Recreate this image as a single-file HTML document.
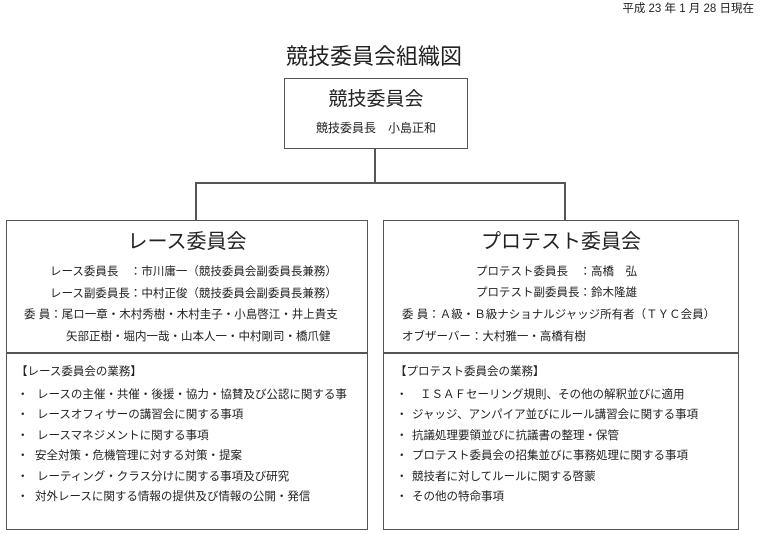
<!DOCTYPE html>
<html><head><meta charset="utf-8"><style>
html,body{margin:0;padding:0;background:#fff;}
body{width:771px;height:534px;position:relative;overflow:hidden;font-family:"Liberation Sans","Noto Sans CJK JP",sans-serif;color:#222;}
.t{position:absolute;white-space:pre;line-height:1;}
.b{position:absolute;border:1.5px solid #555;box-sizing:border-box;}
.l{position:absolute;background:#555;}
.s{font-size:11.5px;}
</style></head><body>
<div class="t" style="left:607px;top:4px;font-size:11.5px;width:147px;text-align:right;">平成 23 年 1 月 28 日現在</div>
<div class="t" style="left:284px;top:46px;font-size:22px;width:180px;text-align:center;">競技委員会組織図</div>

<div class="b" style="left:284px;top:78px;width:184px;height:71px;"></div>
<div class="t" style="left:284px;top:90px;width:184px;text-align:center;font-size:19px;">競技委員会</div>
<div class="t" style="left:284px;top:122px;width:184px;text-align:center;font-size:12px;">競技委員長　小島正和</div>

<div class="l" style="left:374px;top:148px;width:1.5px;height:35px;"></div>
<div class="l" style="left:195px;top:182px;width:370px;height:1.5px;"></div>
<div class="l" style="left:195px;top:182px;width:1.5px;height:39px;"></div>
<div class="l" style="left:564px;top:182px;width:1.5px;height:39px;"></div>

<div class="b" style="left:6px;top:220px;width:362px;height:310px;"></div>
<div class="l" style="left:6px;top:352px;width:362px;height:1.5px;"></div>
<div class="t" style="left:6px;top:232px;width:362px;text-align:center;font-size:20px;">レース委員会</div>
<div class="t s" style="left:50px;top:267px;">レース委員長　：市川庸一（競技委員会副委員長兼務）</div>
<div class="t s" style="left:50px;top:289px;">レース副委員長：中村正俊（競技委員会副委員長兼務）</div>
<div class="t s" style="left:24px;top:310px;">委 員：尾ロ一章・木村秀樹・木村圭子・小島啓江・井上貴支</div>
<div class="t s" style="left:66px;top:332px;">矢部正樹・堀内一哉・山本人一・中村剛司・橋爪健</div>
<div class="t s" style="left:16px;top:367px;">【レース委員会の業務】</div>
<div class="t s" style="left:17px;top:390px;">・</div><div class="t s" style="left:37px;top:390px;">レースの主催・共催・後援・協力・協賛及び公認に関する事</div>
<div class="t s" style="left:17px;top:410px;">・</div><div class="t s" style="left:37px;top:410px;">レースオフィサーの講習会に関する事項</div>
<div class="t s" style="left:17px;top:431px;">・</div><div class="t s" style="left:37px;top:431px;">レースマネジメントに関する事項</div>
<div class="t s" style="left:17px;top:451px;">・</div><div class="t s" style="left:35px;top:451px;">安全対策・危機管理に対する対策・提案</div>
<div class="t s" style="left:17px;top:472px;">・</div><div class="t s" style="left:37px;top:472px;">レーティング・クラス分けに関する事項及び研究</div>
<div class="t s" style="left:17px;top:492px;">・</div><div class="t s" style="left:35px;top:492px;">対外レースに関する情報の提供及び情報の公開・発信</div>

<div class="b" style="left:383px;top:220px;width:356px;height:310px;"></div>
<div class="l" style="left:383px;top:352px;width:356px;height:1.5px;"></div>
<div class="t" style="left:383px;top:232px;width:356px;text-align:center;font-size:20px;">プロテスト委員会</div>
<div class="t s" style="left:476px;top:267px;">プロテスト委員長　：高橋　弘</div>
<div class="t s" style="left:476px;top:288px;">プロテスト副委員長：鈴木隆雄</div>
<div class="t s" style="left:402px;top:310px;">委 員：Ａ級・Ｂ級ナショナルジャッジ所有者（ＴＹＣ会員）</div>
<div class="t s" style="left:402px;top:332px;">オブザーバー：大村雅一・高橋有樹</div>
<div class="t s" style="left:395px;top:367px;">【プロテスト委員会の業務】</div>
<div class="t s" style="left:396px;top:390px;">・</div><div class="t s" style="left:420px;top:390px;">ＩＳＡＦセーリング規則、その他の解釈並びに適用</div>
<div class="t s" style="left:396px;top:410px;">・</div><div class="t s" style="left:412px;top:410px;">ジャッジ、アンパイア並びにルール講習会に関する事項</div>
<div class="t s" style="left:396px;top:431px;">・</div><div class="t s" style="left:412px;top:431px;">抗議処理要領並びに抗議書の整理・保管</div>
<div class="t s" style="left:396px;top:451px;">・</div><div class="t s" style="left:412px;top:451px;">プロテスト委員会の招集並びに事務処理に関する事項</div>
<div class="t s" style="left:396px;top:472px;">・</div><div class="t s" style="left:412px;top:472px;">競技者に対してルールに関する啓蒙</div>
<div class="t s" style="left:396px;top:492px;">・</div><div class="t s" style="left:412px;top:492px;">その他の特命事項</div>
</body></html>
